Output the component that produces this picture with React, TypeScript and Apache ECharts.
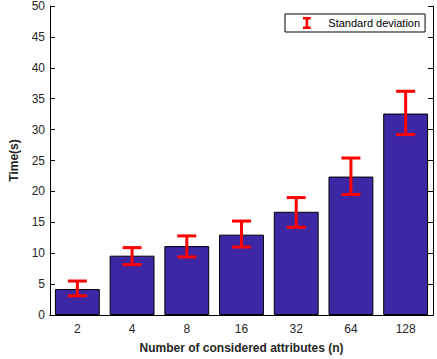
import React, { useEffect, useRef } from "react";
import * as echarts from "echarts";

const categories = ["2", "4", "8", "16", "32", "64", "128"];
const meanTime = [4.2, 9.6, 11.15, 13.0, 16.7, 22.4, 32.6];
const lowerBound = [3.1, 8.15, 9.4, 11.0, 14.2, 19.5, 29.2];
const upperBound = [5.5, 10.9, 12.8, 15.2, 19.0, 25.4, 36.2];
const yTicks = { min: 0, max: 50, interval: 5 };

const FONT = "'Liberation Sans', Arial, sans-serif";

export default function App() {
  const ref = useRef<HTMLDivElement>(null);
  useEffect(() => {
    if (!ref.current) return;
    const chart = echarts.init(ref.current, undefined, { renderer: "svg" });
    const errData = categories.map((_, i) => [i, lowerBound[i], upperBound[i]]);
    const tickStyle = { inside: true, length: 5, lineStyle: { color: "#000", width: 1 } };
    chart.setOption({
      animation: false,
      textStyle: { fontFamily: FONT },
      grid: { left: 34, right: 4, top: 4, bottom: 38, containLabel: false },
      legend: {
        data: ["Standard deviation"],
        left: 285,
        top: 14,
        padding: [3, 5, 3, 18],
        itemWidth: 9,
        itemHeight: 12,
        itemGap: 5,
        borderColor: "#000",
        borderWidth: 1,
        backgroundColor: "#fff",
        textStyle: { fontSize: 11, color: "#000", fontFamily: FONT, padding: [0, 0, 0, 12] },
        icon: "path://M0,0 H9 V3 H6 V11 H9 V14 H0 V11 H3 V3 H0 Z",
      },
      xAxis: [
        {
          type: "category",
          data: categories,
          position: "bottom",
          axisLine: { lineStyle: { color: "#000", width: 1 } },
          axisTick: { ...tickStyle, alignWithLabel: true },
          axisLabel: { fontSize: 12, color: "#262626", margin: 8, fontFamily: FONT },
          name: "Number of considered attributes (n)",
          nameLocation: "middle",
          nameGap: 27,
          nameTextStyle: { fontSize: 12, fontWeight: "bold", color: "#262626", fontFamily: FONT },
        },
        {
          type: "category",
          data: categories,
          position: "top",
          axisLine: { show: true, lineStyle: { color: "#000", width: 1 } },
          axisTick: { ...tickStyle, alignWithLabel: true },
          axisLabel: { show: false },
        },
      ],
      yAxis: [
        {
          type: "value",
          min: yTicks.min,
          max: yTicks.max,
          interval: yTicks.interval,
          position: "left",
          splitLine: { show: false },
          axisLine: { show: true, lineStyle: { color: "#000", width: 1 } },
          axisTick: { show: true, ...tickStyle },
          axisLabel: { fontSize: 12, color: "#262626", margin: 5, fontFamily: FONT },
          name: "Time(s)",
          nameLocation: "middle",
          nameGap: 30,
          nameTextStyle: { fontSize: 12, fontWeight: "bold", color: "#262626", fontFamily: FONT },
        },
        {
          type: "value",
          min: yTicks.min,
          max: yTicks.max,
          interval: yTicks.interval,
          position: "right",
          splitLine: { show: false },
          axisLine: { show: true, lineStyle: { color: "#000", width: 1 } },
          axisTick: { show: true, ...tickStyle },
          axisLabel: { show: false },
        },
      ],
      series: [
        {
          name: "Time",
          type: "bar",
          data: meanTime,
          barWidth: "82%",
          itemStyle: { color: "#3D27A5", borderColor: "#000", borderWidth: 1 },
          z: 1,
        },
        {
          name: "Standard deviation",
          type: "custom",
          data: errData,
          encode: { x: 0, y: [1, 2] },
          itemStyle: { color: "#FF0000" },
          z: 3,
          renderItem: (params: any, api: any) => {
            const idx = api.value(0);
            const lo = api.coord([idx, api.value(1)]);
            const hi = api.coord([idx, api.value(2)]);
            const hw = 9.5;
            const style = { stroke: "#FF0000", lineWidth: 3, fill: "none" };
            return {
              type: "group",
              children: [
                { type: "line", shape: { x1: hi[0], y1: hi[1], x2: lo[0], y2: lo[1] }, style },
                { type: "line", shape: { x1: hi[0] - hw, y1: hi[1], x2: hi[0] + hw, y2: hi[1] }, style },
                { type: "line", shape: { x1: lo[0] - hw, y1: lo[1], x2: lo[0] + hw, y2: lo[1] }, style },
              ],
            };
          },
        },
      ],
    });
    return () => chart.dispose();
  }, []);
  return <div ref={ref} style={{ position: "absolute", left: 0, top: 0, width: 437, height: 359 }} />;
}
